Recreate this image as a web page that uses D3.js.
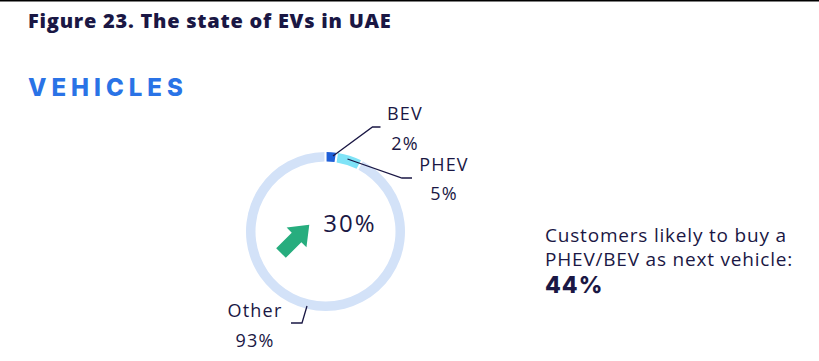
<!DOCTYPE html>
<html><head><meta charset="utf-8">
<script src="https://cdn.jsdelivr.net/npm/d3@7"></script>
<style>
html,body{margin:0;padding:0;background:#fff;}
svg{display:block;}
</style></head>
<body><svg id="chart" width="819" height="361"></svg>
<script>
const titleText = "Figure 23. The state of EVs in UAE";
const sectionText = "VEHICLES";
const categories = ["BEV", "PHEV", "Other"];
const shares = [2, 5, 93];
const colors = ["#1f5fd8", "#7fe3f7", "#d3e2f8"];
const centerValue = "30%";
const noteLines = ["Customers likely to buy a", "PHEV/BEV as next vehicle:"];
const noteValue = "44%";

const svg = d3.select("#chart");
const navy = "#1a1744";
const font = "Inter, 'Noto Sans', sans-serif";
const wide = "'Open Sans', sans-serif";

svg.append("line").attr("x1",0).attr("x2",819).attr("y1",0.75).attr("y2",0.75)
  .attr("stroke","#000").attr("stroke-width",1.5);

svg.append("text").attr("x",28).attr("y",28).text(titleText)
  .attr("font-family",wide).attr("font-weight",800).attr("font-size",20)
  .attr("letter-spacing",0.75).attr("fill",navy);

svg.append("text").attr("x",28).attr("y",96).text(sectionText)
  .attr("font-family",font).attr("font-weight",800).attr("font-size",24)
  .attr("letter-spacing",5).attr("fill","#2a73e6");

const cx = 325.5, cy = 231.5, rOut = 79.5, rIn = 70;
const g = svg.append("g").attr("transform",`translate(${cx},${cy})`);
const pie = d3.pie().sort(null).value(d=>d.v).padAngle(0.02);
const data = pie(categories.map((c,i)=>({c, v:shares[i]})));
const arc = d3.arc().innerRadius(rIn).outerRadius(rOut);
g.selectAll("path.seg").data(data).enter().append("path").attr("class","seg")
  .attr("d",arc).attr("fill",(d,i)=>colors[i]);

// leader lines and labels
const labelPos = {
  BEV:   {line:[[7.5,-75.5],[47,-104.5],[55,-104.5]], tx:405, ty:[120,150]},
  PHEV:  {line:[[22,-72.5],[76.5,-53.5],[86.5,-53.5]], tx:444, ty:[171,200]},
  Other: {line:[[-18.5,74.5],[-23.5,91.5],[-34.5,91.5]], tx:255, ty:[317,347]}
};
data.forEach((d,i)=>{
  const p = labelPos[d.data.c];
  g.append("path").attr("d", d3.line()(p.line)).attr("fill","none")
    .attr("stroke", navy).attr("stroke-width",1.3);
  svg.append("text").attr("x",p.tx).attr("y",p.ty[0]).attr("text-anchor","middle")
    .attr("font-family",wide).attr("font-size",18).attr("letter-spacing",1.2)
    .attr("fill",navy).text(d.data.c);
  svg.append("text").attr("x",p.tx).attr("y",p.ty[1]).attr("text-anchor","middle")
    .attr("font-family",wide).attr("font-size",18).attr("letter-spacing",1.2)
    .attr("fill",navy).text(d.data.v+"%");
});

// arrow
const arrow = [[0,-6.8],[22,-6.8],[22,-14],[40,0],[22,14],[22,6.8],[0,6.8]];
svg.append("path").attr("d", d3.line()(arrow)+"Z").attr("fill","#27ad7e")
  .attr("transform","translate(281,253) rotate(-45)");

svg.append("text").attr("x",350).attr("y",232).attr("text-anchor","middle")
  .attr("font-family",wide).attr("font-size",24).attr("letter-spacing",2)
  .attr("fill",navy).text(centerValue);

noteLines.forEach((t,i)=>{
  svg.append("text").attr("x",545).attr("y",242+i*23.5).text(t)
    .attr("font-family",wide).attr("font-size",19).attr("letter-spacing",0.8)
    .attr("fill",navy);
});
svg.append("text").attr("x",545).attr("y",293).text(noteValue)
  .attr("font-family",font).attr("font-weight",800).attr("font-size",23)
  .attr("letter-spacing",1).attr("fill",navy);
</script></body></html>
